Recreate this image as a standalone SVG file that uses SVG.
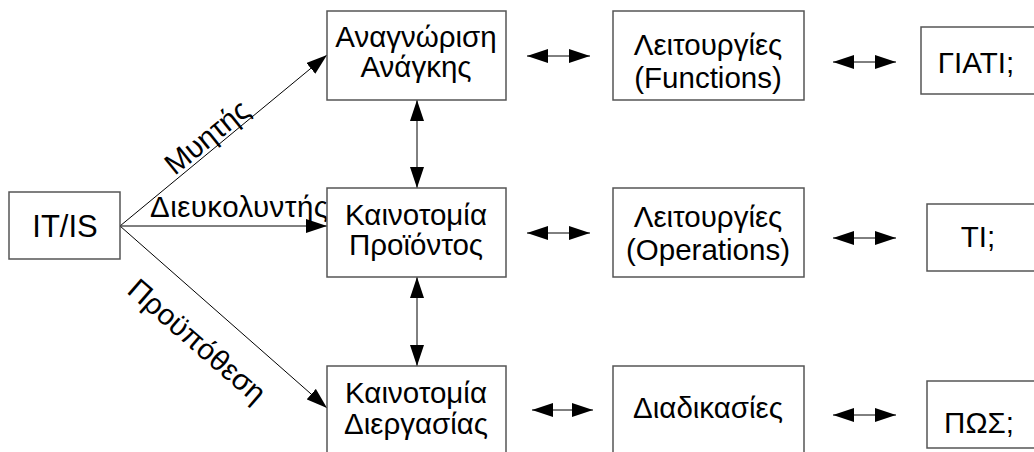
<svg xmlns="http://www.w3.org/2000/svg" width="1034" height="452" viewBox="0 0 1034 452">
  <style>
    .box { fill: #ffffff; stroke: #555555; stroke-width: 1.5; }
    .lbl { font-family: "Liberation Sans", Arial, sans-serif; font-size: 29.5px; fill: #000000; text-anchor: middle; }
    .edge { stroke: #000000; stroke-width: 1; fill: none; }
  </style>
  <defs>
    <marker id="head" viewBox="0 0 21 14" refX="21" refY="7" markerWidth="21" markerHeight="14" markerUnits="userSpaceOnUse" orient="auto-start-reverse">
      <path d="M0,0 L21,7 L0,14 Z" fill="#000000"/>
    </marker>
  </defs>

  <rect width="1034" height="452" fill="#ffffff"/>

  <!-- connectors -->
  <g id="connectors">
    <line class="edge" x1="120" y1="226" x2="327" y2="55" marker-end="url(#head)"/>
    <line class="edge" x1="120" y1="226" x2="327" y2="226" marker-end="url(#head)"/>
    <line class="edge" x1="120" y1="226" x2="327" y2="408" marker-end="url(#head)"/>

    <line class="edge" x1="417" y1="100" x2="417" y2="188" marker-start="url(#head)" marker-end="url(#head)"/>
    <line class="edge" x1="417" y1="277" x2="417" y2="366" marker-start="url(#head)" marker-end="url(#head)"/>

    <line class="edge" x1="527" y1="56" x2="590" y2="56" marker-start="url(#head)" marker-end="url(#head)"/>
    <line class="edge" x1="833" y1="62" x2="896" y2="62" marker-start="url(#head)" marker-end="url(#head)"/>
    <line class="edge" x1="527" y1="233" x2="590" y2="233" marker-start="url(#head)" marker-end="url(#head)"/>
    <line class="edge" x1="833" y1="238" x2="896" y2="238" marker-start="url(#head)" marker-end="url(#head)"/>
    <line class="edge" x1="532" y1="410" x2="593" y2="410" marker-start="url(#head)" marker-end="url(#head)"/>
    <line class="edge" x1="833" y1="415" x2="896" y2="415" marker-start="url(#head)" marker-end="url(#head)"/>

    <text class="lbl" transform="translate(207,137) rotate(-39)" y="10">Μυητής</text>
    <text class="lbl" x="150" y="217" style="text-anchor:start" textLength="178" lengthAdjust="spacing">Διευκολυντής</text>
    <text class="lbl" transform="translate(197,341) rotate(41)" y="10">Προϋπόθεση</text>
  </g>

  <g id="itis">
    <rect class="box" x="9" y="192" width="111" height="67"/>
    <text class="lbl" x="65" y="237" style="font-size:31px">IT/IS</text>
  </g>

  <g id="need">
    <rect class="box" x="327" y="11" width="179" height="89"/>
    <text class="lbl" x="416" y="47">Αναγνώριση</text>
    <text class="lbl" x="416" y="77">Ανάγκης</text>
  </g>

  <g id="product">
    <rect class="box" x="327" y="188" width="179" height="89"/>
    <text class="lbl" x="416" y="225">Καινοτομία</text>
    <text class="lbl" x="416" y="255">Προϊόντος</text>
  </g>

  <g id="process">
    <rect class="box" x="327" y="366" width="179" height="100"/>
    <text class="lbl" x="416" y="403">Καινοτομία</text>
    <text class="lbl" x="416" y="434">Διεργασίας</text>
  </g>

  <g id="functions">
    <rect class="box" x="613" y="11" width="191" height="89"/>
    <text class="lbl" x="708" y="55">Λειτουργίες</text>
    <text class="lbl" x="708" y="88">(Functions)</text>
  </g>

  <g id="operations">
    <rect class="box" x="613" y="188" width="191" height="89"/>
    <text class="lbl" x="708" y="227">Λειτουργίες</text>
    <text class="lbl" x="708" y="260">(Operations)</text>
  </g>

  <g id="procedures">
    <rect class="box" x="613" y="366" width="191" height="100"/>
    <text class="lbl" x="708" y="418">Διαδικασίες</text>
  </g>

  <g id="why">
    <rect class="box" x="921" y="27" width="120" height="67"/>
    <text class="lbl" x="976" y="73">ΓΙΑΤΙ;</text>
  </g>

  <g id="what">
    <rect class="box" x="927" y="204" width="120" height="67"/>
    <text class="lbl" x="978" y="247">ΤΙ;</text>
  </g>

  <g id="how">
    <rect class="box" x="927" y="381" width="120" height="67"/>
    <text class="lbl" x="979" y="433">ΠΩΣ;</text>
  </g>
</svg>
